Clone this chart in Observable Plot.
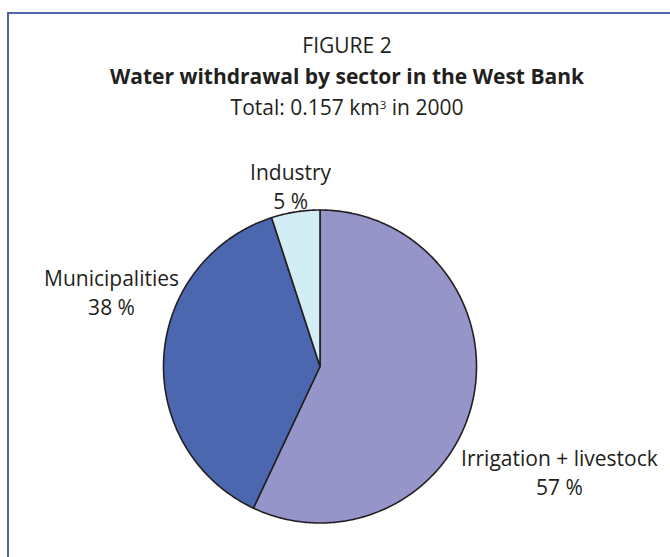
<!DOCTYPE html>
<html>
<head>
<meta charset="utf-8">
<script src="https://cdn.jsdelivr.net/npm/d3@7"></script>
<script src="https://cdn.jsdelivr.net/npm/@observablehq/plot@0.6"></script>
<style>
  html, body { margin: 0; padding: 0; background: #fff; }
  #wrap { position: relative; width: 670px; height: 557px; overflow: hidden; font-family: "Open Sans", sans-serif; color: #231f20; }
  #frame { position: absolute; left: 7px; top: 12px; width: 720px; height: 620px; border: 2px solid #5165a8; box-sizing: border-box; }
  #titles { position: relative; height: 140px; width: 694px; text-align: center; box-sizing: border-box; padding-top: 30px; font-size: 21px; line-height: 31px; }
  #titles .b { font-weight: bold; }
  #titles sup { font-size: 0.55em; vertical-align: 0.55em; line-height: 0; }
  #chart { position: relative; }
  #chart svg { background: transparent; }
</style>
</head>
<body>
<div id="wrap">
  <div id="frame"></div>
  <div id="titles">
    <div>FIGURE 2</div>
    <div class="b">Water withdrawal by sector in the West Bank</div>
    <div>Total: 0.157 km<sup>3</sup> in 2000</div>
  </div>
  <div id="chart"></div>
</div>
<script>
// Data
const sectors = ["Irrigation + livestock", "Municipalities", "Industry"];
const shares = [57, 38, 5];
const labelTexts = ["Irrigation + livestock\n57 %", "Municipalities\n38 %", "Industry\n5 %"];
const colors = ["#9595c9", "#4a67b0", "#d3edf4"];
// label anchor positions in pie-radius units (x right, y up)
const labelX = [1.530, -1.332, -0.188];
const labelY = [-0.670, 0.480, 1.158];

// Build slice outlines from the pie layout
const pie = d3.pie().sort(null).value((d, i) => shares[i])(sectors);
const pts = [];
pie.forEach((p, i) => {
  const s = sectors[i];
  pts.push({sector: s, x: 0, y: 0});
  const n = Math.max(2, Math.ceil((p.endAngle - p.startAngle) / (Math.PI / 360)));
  for (let k = 0; k <= n; k++) {
    const a = p.startAngle + (p.endAngle - p.startAngle) * k / n;
    pts.push({sector: s, x: Math.sin(a), y: Math.cos(a)});
  }
  pts.push({sector: s, x: 0, y: 0});
});
const labels = sectors.map((s, i) => ({sector: s, text: labelTexts[i], x: labelX[i], y: labelY[i]}));

const chart = Plot.plot({
  width: 670,
  height: 417,
  marginLeft: 163,
  marginRight: 194,
  marginTop: 69.5,
  marginBottom: 34.5,
  x: {domain: [-1, 1], axis: null},
  y: {domain: [-1, 1], axis: null},
  color: {domain: sectors, range: colors},
  style: {fontFamily: "Open Sans, sans-serif", background: "transparent", overflow: "visible"},
  marks: [
    Plot.line(pts, {x: "x", y: "y", z: "sector", fill: "sector", stroke: "#231f20", strokeWidth: 1.6, strokeLinejoin: "round"}),
    Plot.text(labels, {x: "x", y: "y", text: "text", fontSize: 21, fill: "#231f20", lineHeight: 1.38, textAnchor: "middle"})
  ]
});
document.getElementById("chart").appendChild(chart);
</script>
</body>
</html>
